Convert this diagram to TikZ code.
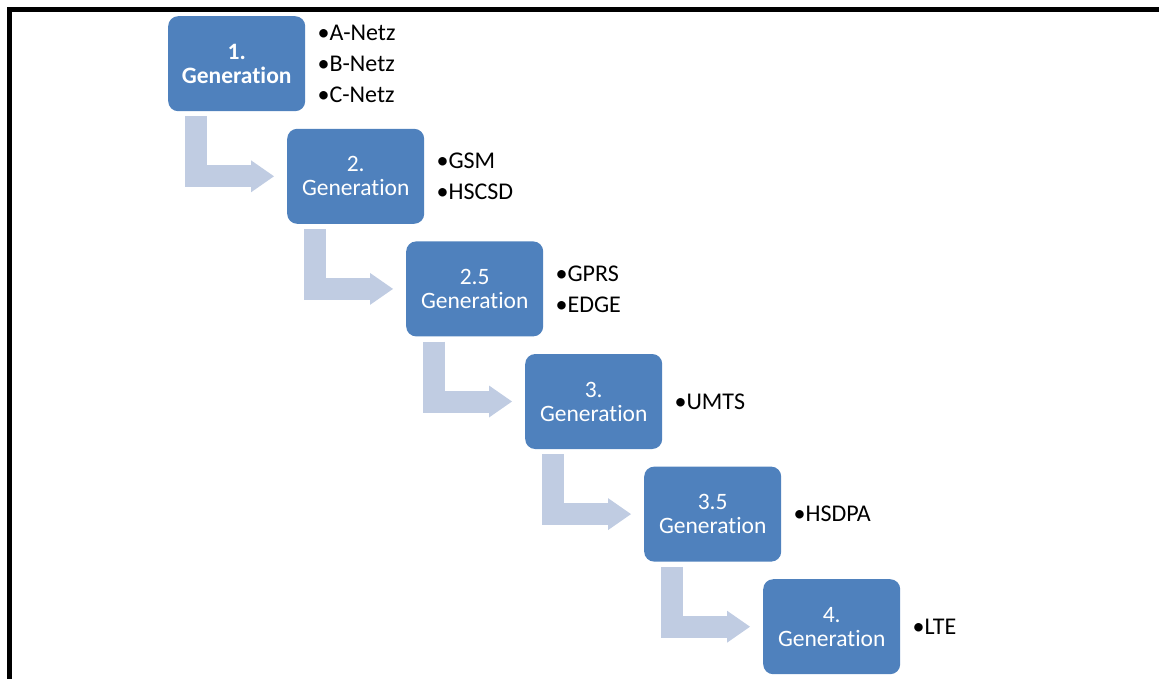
\documentclass[tikz,border=0pt]{standalone}
\usepackage{fontspec}
\setmainfont{Carlito}[Ligatures=NoCommon]
\usetikzlibrary{arrows.meta}
\definecolor{boxblue}{RGB}{79,129,189}
\definecolor{flowblue}{RGB}{192,204,226}
\begin{document}
\begin{tikzpicture}[x=1pt,y=-1pt,
 gen/.style={fill=boxblue, rounded corners=10pt, minimum width=137pt, minimum height=95pt,
   inner sep=0pt, text=white, align=center, font=\fontsize{23.5}{24}\selectfont, anchor=north west},
 items/.style={anchor=west, inner sep=0pt, align=left, font=\fontsize{24}{31}\selectfont, xshift=12pt},
 flow/.style={draw=flowblue, line width=22pt, line join=miter,
   -{Triangle[length=23pt,width=32pt,line width=0pt]}}]
\useasboundingbox (0,0) rectangle (1159,678);
\draw[line width=5pt, line join=miter] (9.5,690) -- (9.5,9.5) -- (1170,9.5);

\node[gen, font=\fontsize{23.5}{24}\selectfont\bfseries] (g1) at (168,16) {1.\\Generation};
\node[gen] (g2) at (287,128.6) {2.\\Generation};
\node[gen] (g3) at (406,241.2) {2.5\\Generation};
\node[gen] (g4) at (525,353.8) {3.\\Generation};
\node[gen] (g5) at (644,466.4) {3.5\\Generation};
\node[gen] (g6) at (763,579) {4.\\Generation};

\node[items] (l1) at (g1.east) {•A-Netz\\•B-Netz\\•C-Netz};
\node[items] (l2) at (g2.east) {•GSM\\•HSCSD};
\node[items] (l3) at (g3.east) {•GPRS\\•EDGE};
\node[items] (l4) at (g4.east) {•UMTS};
\node[items] (l5) at (g5.east) {•HSDPA};
\node[items] (l6) at (g6.east) {•LTE};

\draw[flow] ([xshift=28pt,yshift=-5pt]g1.south west) |- ([xshift=-13pt]g2.west);
\draw[flow] ([xshift=28pt,yshift=-5pt]g2.south west) |- ([xshift=-13pt]g3.west);
\draw[flow] ([xshift=28pt,yshift=-5pt]g3.south west) |- ([xshift=-13pt]g4.west);
\draw[flow] ([xshift=28pt,yshift=-5pt]g4.south west) |- ([xshift=-13pt]g5.west);
\draw[flow] ([xshift=28pt,yshift=-5pt]g5.south west) |- ([xshift=-13pt]g6.west);
\end{tikzpicture}
\end{document}
